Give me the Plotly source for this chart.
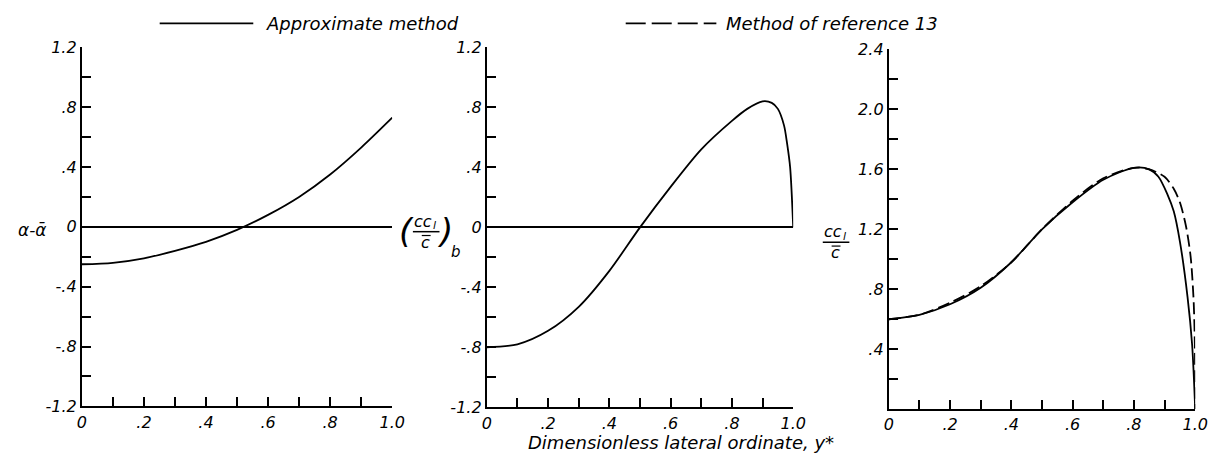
import plotly.graph_objects as go

W, H = 1221, 473

# Spanwise stations (dimensionless lateral ordinate y*) and plotted quantities
y_star_alpha = [0, .1, .2, .3, .4, .5, .6, .7, .8, .9, 1.0]
alpha_diff = [-0.25, -0.24, -0.21, -0.16, -0.10, -0.02, 0.08, 0.20, 0.35, 0.53, 0.73]

y_star_basic = [0, .1, .2, .3, .4, .5, .6, .7, .8, .85, .9, .93, .95, .97, .98, .99, 1.0]
ccl_basic = [-0.80, -0.78, -0.69, -0.53, -0.29, 0.0, 0.27, 0.52, 0.71, 0.79,
             0.84, 0.83, 0.79, 0.68, 0.56, 0.40, 0.0]

y_star_approx = [0, .1, .2, .3, .4, .5, .6, .7, .8, .85, .88, .91, .93, .95, .975, .99, 1.0]
ccl_approx = [0.60, 0.63, 0.70, 0.81, 0.98, 1.20, 1.38, 1.53, 1.61, 1.60,
              1.55, 1.43, 1.32, 1.12, 0.75, 0.43, 0.0]

y_star_ref13 = [0, .1, .2, .3, .4, .5, .6, .7, .8, .85, .9, .93, .95, .97, .985, .995, .999, 1.0]
ccl_ref13 = [0.60, 0.63, 0.71, 0.82, 0.98, 1.20, 1.39, 1.54, 1.61, 1.60,
             1.55, 1.47, 1.38, 1.22, 1.02, 0.72, 0.40, 0.0]

# Tick positions and labels
x_tickvals = [0, .2, .4, .6, .8, 1.0]
x_ticktext = ["0", ".2", ".4", ".6", ".8", "1.0"]
y_tickvals = [-1.2, -0.8, -0.4, 0, 0.4, 0.8, 1.2]
y_ticktext = ["-1.2", "-.8", "-.4", "0", ".4", ".8", "1.2"]
y3_tickvals = [.4, .8, 1.2, 1.6, 2.0, 2.4]
y3_ticktext = [".4", ".8", "1.2", "1.6", "2.0", "2.4"]

FONT = "DejaVu Sans"
tickfont = dict(family=FONT, size=16, color="black", style="italic")


def px(x):
    return x / W


def py(y):
    return 1 - y / H


def minor_ticks(step, start):
    return dict(tickmode="linear", tick0=start, dtick=step, ticks="inside",
                ticklen=9, tickwidth=1.5, tickcolor="black", showgrid=False)


def xaxis(domain, anchor):
    return dict(domain=domain, anchor=anchor, range=[0, 1],
                showline=True, linecolor="black", linewidth=2, mirror=False,
                ticks="inside", ticklen=9, tickwidth=1.5, tickcolor="black",
                tickmode="array", tickvals=x_tickvals, ticktext=x_ticktext,
                minor=minor_ticks(0.1, 0),
                tickfont=tickfont, showgrid=False, zeroline=False)


def yaxis(domain, anchor, rng, vals, text, zero):
    return dict(domain=domain, anchor=anchor, range=rng,
                showline=True, linecolor="black", linewidth=2, mirror=False,
                ticks="inside", ticklen=9, tickwidth=1.5, tickcolor="black",
                tickmode="array", tickvals=vals, ticktext=text,
                minor=minor_ticks(0.2, 0),
                tickfont=tickfont, showgrid=False,
                zeroline=zero, zerolinecolor="black", zerolinewidth=1.5)


fig = go.Figure()
line_solid = dict(color="black", width=1.8, shape="spline", smoothing=0.8)
line_dash = dict(color="black", width=1.8, dash="12px,5px", shape="spline", smoothing=0.8)

fig.add_trace(go.Scatter(x=y_star_alpha, y=alpha_diff, mode="lines",
                         line=line_solid, xaxis="x", yaxis="y", showlegend=False))
fig.add_trace(go.Scatter(x=y_star_basic, y=ccl_basic, mode="lines",
                         line=line_solid, xaxis="x2", yaxis="y2", showlegend=False))
fig.add_trace(go.Scatter(x=y_star_ref13, y=ccl_ref13, mode="lines",
                         line=line_dash, xaxis="x3", yaxis="y3", showlegend=False))
fig.add_trace(go.Scatter(x=y_star_approx, y=ccl_approx, mode="lines",
                         line=line_solid, xaxis="x3", yaxis="y3", showlegend=False))

ann_font = dict(family=FONT, color="black", style="italic")


def ann(text, x, y, size, xanchor="center", yanchor="middle"):
    return dict(text=text, x=px(x), y=py(y), xref="paper", yref="paper",
                showarrow=False, xanchor=xanchor, yanchor=yanchor,
                font=dict(size=size, **ann_font))


def hline(x0, x1, y, width=1.5, dash="solid"):
    return dict(type="line", xref="paper", yref="paper",
                x0=px(x0), x1=px(x1), y0=py(y), y1=py(y),
                line=dict(color="black", width=width, dash=dash))


annotations = [
    # legend
    ann("Approximate method", 263, 15, 18, xanchor="left"),
    ann("Method of reference 13", 730, 15, 18, xanchor="left"),
    # axis titles
    ann("Dimensionless lateral ordinate, y*", 686, 452, 18),
    ann("α-ᾱ", 28, 230, 17),
    # (cc_l / c-bar)_b
    ann("(", 408, 231, 34),
    ann("cc", 424, 221, 16),
    ann("l", 436, 226, 11),
    ann("c", 427, 243, 16),
    ann(")", 447, 231, 34),
    ann("b", 458, 253, 15),
    # cc_l / c-bar
    ann("cc", 840, 232, 16),
    ann("l", 852, 237, 11),
    ann("c", 843, 254, 16),
]

shapes = [
    # legend samples
    hline(157, 252, 15, width=1.8),
    hline(630, 722, 15, width=1.8, dash="20px,6px"),
    # fraction bars and c-bar overlines
    hline(414, 441, 232),
    hline(423, 432, 236, width=1.2),
    hline(830, 857, 243),
    hline(839, 848, 247, width=1.2),
]

fig.update_layout(
    width=W, height=H,
    margin=dict(l=0, r=0, t=0, b=0),
    paper_bgcolor="white", plot_bgcolor="white",
    xaxis=xaxis([px(78), px(393)], "y"),
    yaxis=yaxis([py(414), py(40)], "x", [-1.2, 1.2], y_tickvals, y_ticktext, True),
    xaxis2=xaxis([px(489), px(800)], "y2"),
    yaxis2=yaxis([py(415), py(40)], "x2", [-1.2, 1.2], y_tickvals, y_ticktext, True),
    xaxis3=xaxis([px(897), px(1208)], "y3"),
    yaxis3=yaxis([py(417), py(42)], "x3", [0, 2.4], y3_tickvals, y3_ticktext, False),
    annotations=annotations,
    shapes=shapes,
    showlegend=False,
)

fig.write_html("out.html")
